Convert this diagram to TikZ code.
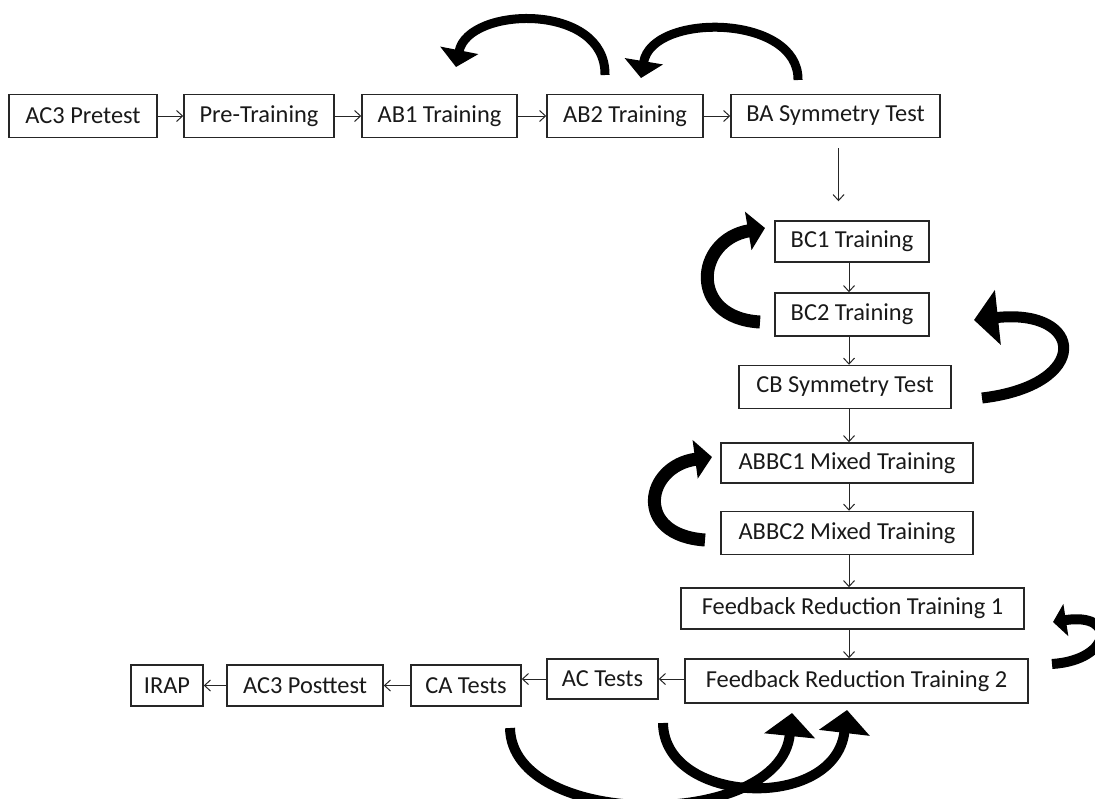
\documentclass[tikz,border=0pt]{standalone}
\usepackage{fontspec}
\setmainfont{Carlito}
\usetikzlibrary{arrows.meta,bending}
\begin{document}
\begin{tikzpicture}[x=0.5pt,y=-0.5pt,
  box/.style={draw=black!85, line width=0.75pt, minimum height=21.5pt, inner sep=0pt,
    font=\fontsize{12.2}{14}\selectfont, text=black!90},
  conn/.style={draw=black!85, line width=0.5pt, -{Straight Barb[length=3pt,width=5.5pt]}},
  big/.style={draw=black, line width=#1, line cap=butt},
  headS/.style={-{Triangle[length=8.5pt,width=19pt,quick]}},
  headM/.style={-{Triangle[length=12pt,width=27pt,quick]}},
  headT/.style={-{Triangle[length=6.5pt,width=16pt,quick]}},
  headL/.style={-{Triangle[length=11.5pt,width=25pt,quick]}},
]
\useasboundingbox (0,0) rectangle (1095,798);
\clip (0,0) rectangle (1095,798);

% top row
\node[box, minimum width=74pt]   (ac3pre) at (83,116)    {AC3 Pretest};
\node[box, minimum width=75pt]   (pre)    at (259,116)   {Pre-Training};
\node[box, minimum width=77.5pt] (ab1)    at (439.5,116) {AB1 Training};
\node[box, minimum width=78pt]   (ab2)    at (625,116)   {AB2 Training};
\node[box, minimum width=104.5pt](ba)     at (835.5,116) {BA Symmetry Test};
% column
\node[box, minimum width=77pt, minimum height=20.5pt] (bc1) at (852,241.5) {BC1 Training};
\node[box, minimum width=77pt]  (bc2) at (852,314.5) {BC2 Training};
\node[box, minimum width=106pt] (cb)  at (845,387)   {CB Symmetry Test};
\node[box, minimum width=126pt, minimum height=20pt] (abbc1) at (847,463) {ABBC1 Mixed Training};
\node[box, minimum width=126pt] (abbc2) at (847,533) {ABBC2 Mixed Training};
\node[box, minimum width=171.5pt, minimum height=20.5pt] (frt1) at (852.5,608.5) {Feedback Reduction Training 1};
\node[box, minimum width=171.5pt, minimum height=22pt]   (frt2) at (856.5,681)   {Feedback Reduction Training 2};
% bottom row
\node[box, minimum width=55.5pt, minimum height=20pt]  (ac)      at (602.5,679) {AC Tests};
\node[box, minimum width=55pt, minimum height=20.5pt]  (ca)      at (466,685.5) {CA Tests};
\node[box, minimum width=78pt, minimum height=20.5pt]  (ac3post) at (305,685.5) {AC3 Posttest};
\node[box, minimum width=36pt, minimum height=20.5pt]  (irap)    at (167,685.5) {IRAP};

\coordinate (col) at (849,0);

% thin connectors
\draw[conn] (ac3pre) -- (pre);
\draw[conn] (pre) -- (ab1);
\draw[conn] (ab1) -- (ab2);
\draw[conn] (ab2) -- (ba);
\draw[conn, shorten <=5pt, shorten >=9.5pt] ([xshift=1.5pt]ba.south) -- ([xshift=1.5pt]ba.south |- bc1.north);
\draw[conn] (bc1.south -| col) -- (bc2.north -| col);
\draw[conn] (bc2.south -| col) -- (cb.north -| col);
\draw[conn] (cb.south -| col) -- (abbc1.north -| col);
\draw[conn] (abbc1.south -| col) -- (abbc2.north -| col);
\draw[conn] (abbc2.south -| col) -- (frt1.north -| col);
\draw[conn] (frt1.south -| col) -- (frt2.north -| col);
\draw[conn] (frt2.west |- ac) -- (ac.east);
\draw[conn] (ac.west) -- (ac.west -| ca.east);
\draw[conn] (ca.west) -- (ac3post.east);
\draw[conn] (ac3post.west) -- (irap.east);

% thick curved arrows
\coordinate (t1s) at (605,75);   \coordinate (t1e) at (456,67);
\coordinate (t2s) at (798,80);   \coordinate (t2e) at (641,78);
\coordinate (l1s) at (760,322);  \coordinate (l1e) at (765,228);
\coordinate (r1s) at (982,398);  \coordinate (r1e) at (974,320);
\coordinate (l2s) at (705,540);  \coordinate (l2e) at (712,457);
\coordinate (r2s) at (1052,664); \coordinate (r2e) at (1053,622);
\coordinate (bas) at (510,728);  \coordinate (bae) at (792,713);
\coordinate (bbs) at (663,723);  \coordinate (bbe) at (847,710);

\draw[big=4.5pt, headS] (t1s) .. controls (606,2) and (468,6) .. (t1e);
\draw[big=4.5pt, headS] (t2s) .. controls (799,14) and (652,12) .. (t2e);
\draw[big=6.5pt, headS] (l1s) .. controls (688,318) and (695,240) .. (l1e);
\draw[big=5.5pt, headM] (r1s) .. controls (1092,385) and (1085,308) .. (r1e);
\draw[big=6.5pt, headS] (l2s) .. controls (633,535) and (645,466) .. (l2e);
\draw[big=5pt, headT] (r2s) .. controls (1112,660) and (1118,612) .. (r2e);
\draw[big=5pt, headL] (bas) .. controls (512,830) and (780,830) .. (bae);
\draw[big=5pt, headL] (bbs) .. controls (664,805) and (835,812) .. (bbe);
\end{tikzpicture}
\end{document}
